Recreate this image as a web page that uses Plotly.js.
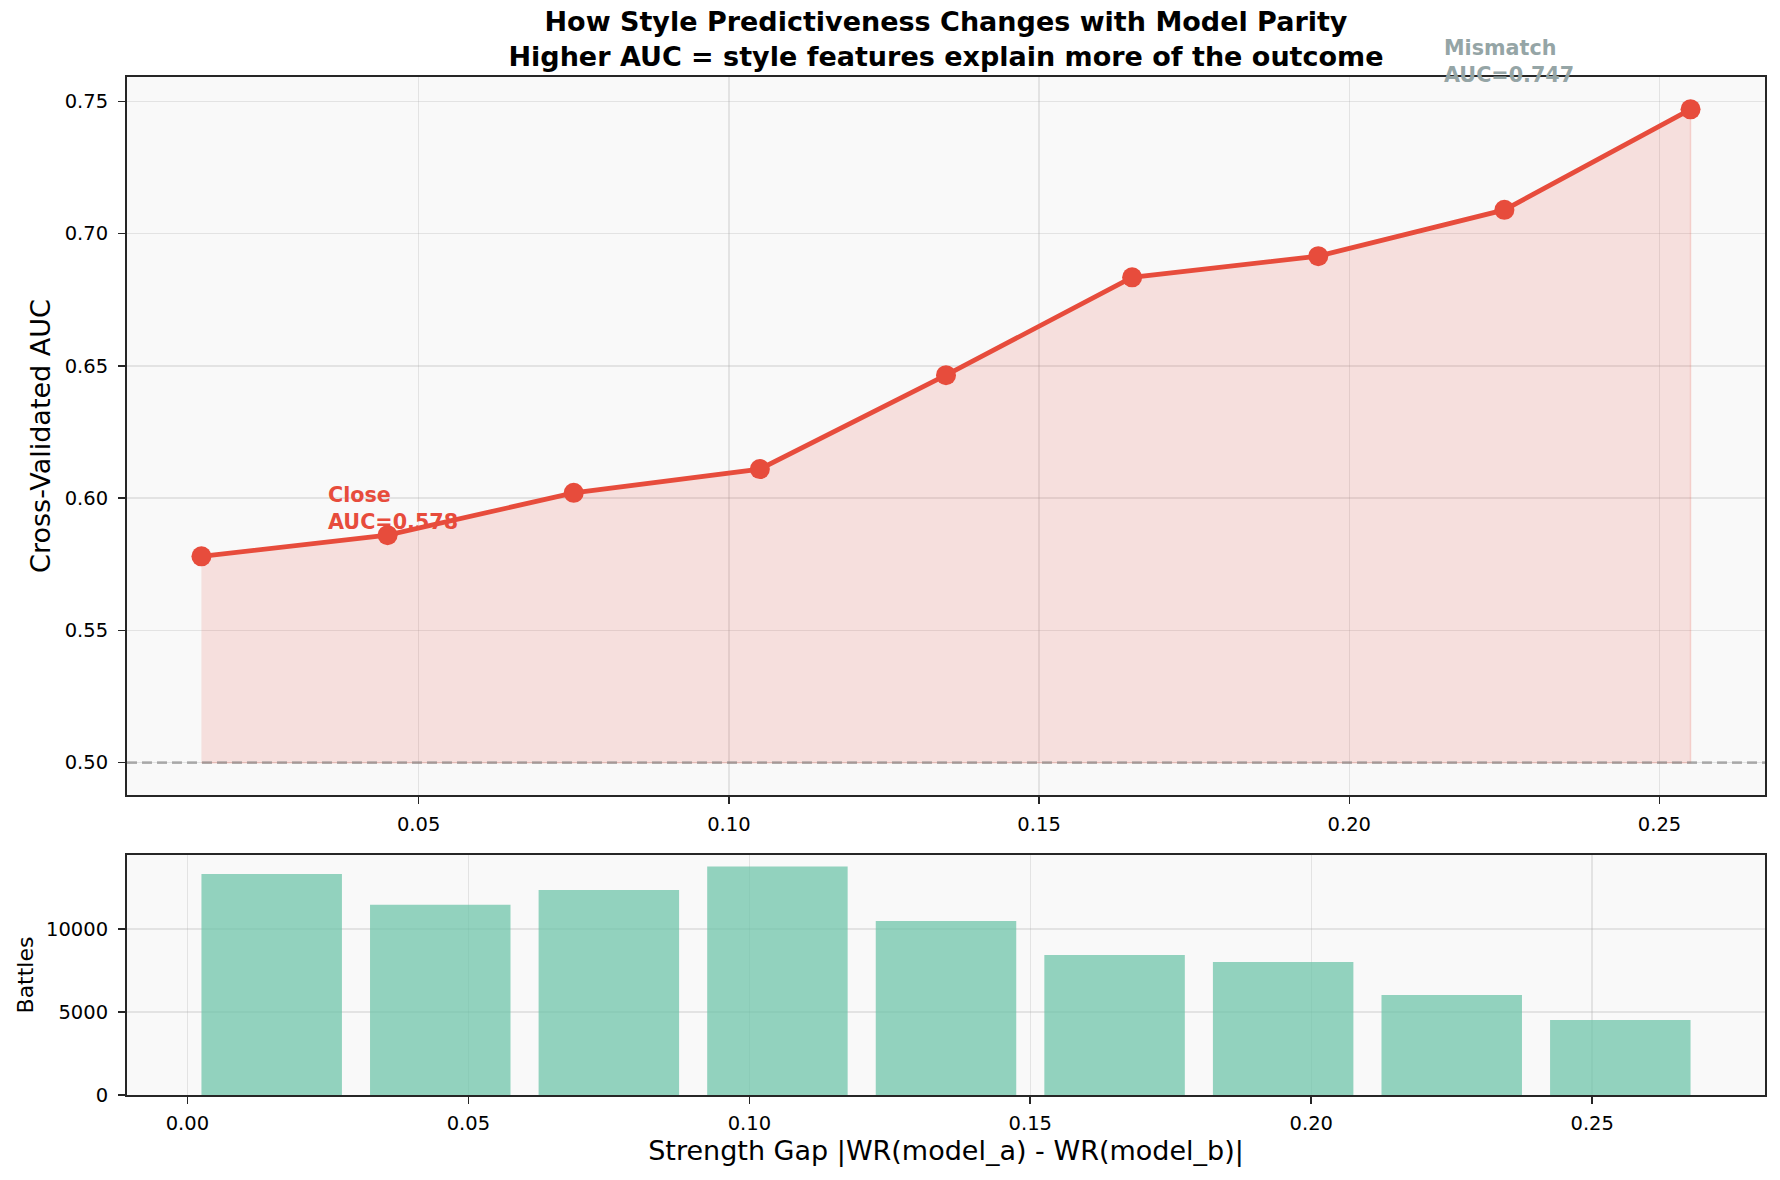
<!DOCTYPE html>
<html>
<head>
<meta charset="utf-8">
<script src="https://cdn.plot.ly/plotly-3.0.1.min.js"></script>
<style>
html, body { margin: 0; padding: 0; background: #ffffff; }
#chart { width: 1780px; height: 1180px; }
</style>
</head>
<body>
<div id="chart"></div>
<script>
// ---- data ----
const strengthGap = [0.015, 0.045, 0.075, 0.105, 0.135, 0.165, 0.195, 0.225, 0.255];
const cvAUC = [0.578, 0.586, 0.602, 0.611, 0.6465, 0.6835, 0.6915, 0.709, 0.747];
const battles = [13300, 11450, 12350, 13760, 10480, 8430, 8010, 6020, 4520];
const chanceAUC = 0.5;
const closeLabel = "Close<br>AUC=0.578";
const mismatchLabel = "Mismatch<br>AUC=0.747";
const titleText = "How Style Predictiveness Changes with Model Parity<br>Higher AUC = style features explain more of the outcome";
const xTitle = "Strength Gap |WR(model_a) - WR(model_b)|";
const yTitleTop = "Cross-Validated AUC";
const yTitleBottom = "Battles";

// ---- styling ----
const FONT = "DejaVu Sans, Verdana, sans-serif";
const RED = "#e74c3c";
const GRAY = "#95a5a6";
const BAR = "#66c2a5";
const BG = "#f9f9f9";
const SPINE = "#262626";
const GRID = "rgba(176,176,176,0.3)";

// fill polygon between chance line and AUC curve
const fillX = strengthGap.concat(strengthGap.slice().reverse());
const fillY = cvAUC.concat(strengthGap.map(() => chanceAUC));

const traces = [
  {
    x: fillX, y: fillY, xaxis: "x", yaxis: "y",
    type: "scatter", mode: "lines", fill: "toself",
    fillcolor: "rgba(231,76,60,0.15)",
    line: { color: "rgba(231,76,60,0.18)", width: 1.5 },
    hoverinfo: "skip", showlegend: false
  },
  {
    x: strengthGap, y: cvAUC, xaxis: "x", yaxis: "y",
    type: "scatter", mode: "lines+markers",
    line: { color: RED, width: 4.8 },
    marker: { color: RED, size: 20 },
    showlegend: false
  },
  {
    x: strengthGap, y: battles, xaxis: "x2", yaxis: "y2",
    type: "bar", width: 0.025,
    marker: { color: BAR, opacity: 0.7, line: { width: 0 } },
    showlegend: false
  }
];

const axisCommon = {
  showline: true, mirror: true, linecolor: SPINE, linewidth: 2,
  ticks: "outside", ticklen: 7, tickwidth: 1.6, tickcolor: SPINE,
  showgrid: true, gridcolor: GRID, gridwidth: 1.5,
  zeroline: false, automargin: false,
  tickfont: { family: FONT, size: 19.5, color: "#000" }
};

const xDom = [127 / 1780, 1765 / 1780];

const layout = {
  width: 1780, height: 1180,
  margin: { l: 0, r: 0, t: 0, b: 0 },
  paper_bgcolor: "#ffffff",
  plot_bgcolor: BG,
  showlegend: false,
  title: {
    text: titleText,
    font: { family: FONT, size: 27, color: "#000", weight: "bold" },
    xref: "paper", x: 946 / 1780, xanchor: "center",
    yref: "container", y: 1 - 31 / 1180, yanchor: "bottom"
  },
  xaxis: Object.assign({}, axisCommon, {
    domain: xDom, anchor: "y", ticklabelstandoff: 3,
    range: [0.003, 0.267], tick0: 0, dtick: 0.05, tickformat: ".2f"
  }),
  yaxis: Object.assign({}, axisCommon, {
    domain: [1 - 795.3 / 1180, 1 - 76.7 / 1180], anchor: "x", ticklabelstandoff: 6,
    range: [0.48765, 0.75935], tick0: 0, dtick: 0.05, tickformat: ".2f",
    title: { text: yTitleTop, font: { family: FONT, size: 27, color: "#000" }, standoff: 6 }
  }),
  xaxis2: Object.assign({}, axisCommon, {
    domain: xDom, anchor: "y2", ticklabelstandoff: 3,
    range: [-0.01075, 0.28075], tick0: 0, dtick: 0.05, tickformat: ".2f",
    title: { text: xTitle, font: { family: FONT, size: 27, color: "#000" }, standoff: 5 }
  }),
  yaxis2: Object.assign({}, axisCommon, {
    domain: [1 - 1095 / 1180, 1 - 855 / 1180], anchor: "x2", ticklabelstandoff: 6,
    range: [0, 14450], tickvals: [0, 5000, 10000], tickformat: "d",
    title: { text: yTitleBottom, font: { family: FONT, size: 22, color: "#000" }, standoff: 6 }
  }),
  shapes: [
    {
      type: "line", xref: "x domain", yref: "y",
      x0: 0, x1: 1, y0: chanceAUC, y1: chanceAUC,
      line: { color: "rgba(128,128,128,0.6)", width: 2.8, dash: "10px,5px" },
      layer: "above"
    }
  ],
  annotations: [
    {
      xref: "x", yref: "y", x: strengthGap[0] + 0.02, y: cvAUC[0] + 0.01,
      text: closeLabel, showarrow: false, align: "left",
      xanchor: "left", yanchor: "bottom", yshift: -6,
      font: { family: FONT, size: 20.7, color: RED, weight: "bold" }
    },
    {
      xref: "x", yref: "y", x: strengthGap[strengthGap.length - 1] - 0.04, y: cvAUC[cvAUC.length - 1] + 0.01,
      text: mismatchLabel, showarrow: false, align: "left",
      xanchor: "left", yanchor: "bottom", yshift: -6,
      font: { family: FONT, size: 20.7, color: GRAY, weight: "bold" }
    }
  ]
};

Plotly.newPlot("chart", traces, layout, { displayModeBar: false, staticPlot: true });
</script>
</body>
</html>
